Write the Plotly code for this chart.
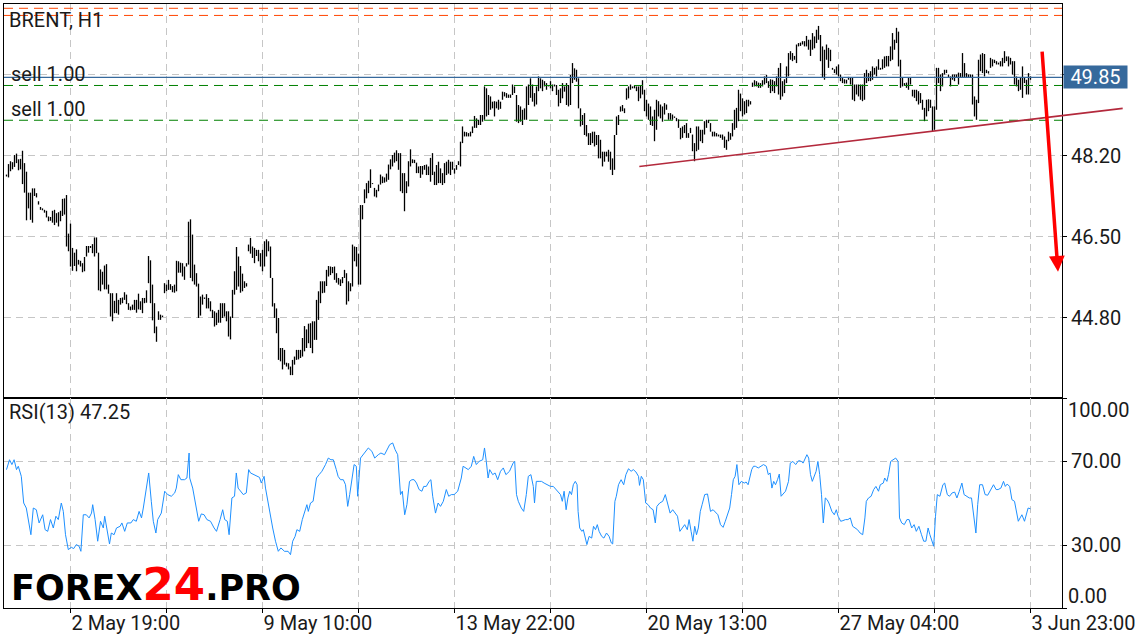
import plotly.graph_objects as go

# ---------------- data ----------------
# H1 bars (high / low), oldest first
high_a = [47.81,48.03,48.09,48.07,48.22,48.25,48.13,48.14,48.31,48.05,
          47.87,47.43,47.43,47.52,47.52,47.42,47.25,47.13,47.10,47.07,
          47.05,46.93,46.92,47.05,47.07,47.00,47.02,47.05,47.30,47.31,
          47.38,46.57,46.78,46.27,46.17,46.24,46.02,46.00,45.95,46.08,
          46.31,46.31,46.31,46.35,46.49,46.49,46.17,45.82,45.77,45.90,
          45.93,45.50,45.32,45.32,45.16,45.32,45.18,45.22,45.23,45.34,
          45.29,45.11,45.04,45.08,45.18,45.18,45.31,45.15,45.22,45.22,
          45.38,46.10,46.01,45.50,45.11,44.62,44.94,44.87,44.85,45.53,
          45.50,45.60,45.51,45.47,45.50,46.00,45.99,45.96,45.95,45.88,
          45.95,46.82,46.87,46.55,45.92,45.74,45.52,45.25,45.29,45.23,
          45.30,45.22,45.15]
low_a = [47.77,47.75,47.88,47.92,47.97,48.05,47.90,47.92,47.61,47.43,
         46.85,47.10,46.86,46.80,47.36,47.33,47.18,47.07,47.06,47.01,
         46.91,46.83,46.84,46.80,46.75,46.80,46.72,46.83,46.94,46.97,
         46.30,46.20,45.88,45.79,45.89,45.78,45.92,45.88,45.76,45.78,
         46.09,46.17,46.27,46.16,46.09,46.16,45.38,45.36,45.50,45.40,
         45.40,45.31,44.83,44.73,44.90,44.90,44.87,45.08,45.11,45.18,
         45.09,44.97,44.96,44.97,44.97,44.91,44.98,44.97,44.90,45.11,
         45.12,45.53,45.11,44.75,44.48,44.30,44.76,44.76,44.82,45.32,
         45.36,45.39,45.39,45.34,45.33,45.36,45.75,45.75,45.67,45.60,
         45.88,45.92,45.64,45.57,45.50,45.46,44.80,44.85,45.08,45.20,
         45.00,45.00,44.94]
high_b = [44.97,44.94,44.91,44.97,45.11,45.11,45.11,44.94,44.94,44.83,
          45.39,45.78,46.29,46.09,45.89,45.73,45.57,45.53,46.34,46.48,
          46.30,46.27,46.23,46.23,46.16,46.23,46.41,46.45,46.41,46.30,
          45.64,45.11,45.00,44.80,44.17,44.17,44.13,43.86,43.85,43.78,
          43.92,43.99,44.13,44.13,44.13,44.38,44.63,44.56,44.68,44.69,
          44.73,44.73,45.18,45.36,45.57,45.57,45.57,45.81,45.89,45.88,
          45.87,45.88,45.74,45.64,45.61,45.66,45.81,45.74,45.57,45.53,
          46.34,46.30,46.29,46.15,47.17,47.17,47.50,47.63,47.68,47.92,
          47.63,47.53,47.49,47.60,47.81,47.77,47.75,47.83,48.02,48.13,
          48.22,48.27,48.32,48.26,48.26,47.84,47.84,47.67,48.09,48.34,
          48.13,48.12,48.06,47.98,47.99,47.99]
low_b = [44.80,44.62,44.65,44.70,44.70,44.80,44.83,44.73,44.41,44.35,
         44.80,45.29,45.39,45.46,45.33,45.36,45.43,45.46,46.20,46.15,
         46.06,45.95,46.10,45.99,45.88,45.78,45.88,46.09,46.20,45.64,
         45.04,44.80,44.48,43.92,43.89,43.72,43.82,43.78,43.72,43.60,
         43.60,43.82,43.92,43.93,43.96,43.99,44.10,44.17,44.27,44.17,
         44.06,44.34,44.34,44.76,45.11,45.32,45.33,45.47,45.67,45.70,
         45.74,45.60,45.54,45.50,45.47,45.53,45.64,45.08,45.15,45.36,
         45.46,45.99,45.88,45.50,45.50,46.87,47.21,47.31,47.42,47.53,
         47.61,47.35,47.33,47.46,47.60,47.63,47.64,47.66,47.70,47.92,
         47.98,48.06,48.09,47.91,47.46,47.42,47.04,47.42,47.56,47.98,
         48.05,48.05,47.84,47.84,47.74,47.81]
high_c = [48.01,48.02,47.98,48.16,48.26,47.87,48.01,48.08,47.94,47.84,
          48.05,48.08,48.12,48.08,48.08,47.94,48.01,48.09,48.50,48.82,
          48.71,48.70,48.68,48.71,48.82,49.04,48.99,48.96,49.06,49.06,
          49.66,49.62,49.48,49.45,49.34,49.35,49.34,49.38,49.34,49.55,
          49.54,49.52,49.49,49.49,49.70,49.66,49.48,49.27,49.24,49.17,
          49.20,49.66,49.70,49.83,49.70,49.52,49.66,49.87,49.83,49.80,
          49.77,49.73,49.69,49.77,49.70,49.70,49.69,49.59,49.62,49.73,
          49.66,49.73,49.69,49.90,50.15,50.04,50.01,49.83,49.20,49.06,
          49.10,48.85,48.68,48.68,48.71,48.71,48.64,48.64,48.54,48.29,
          48.29,48.29,48.33,48.29,48.15,48.64,49.03,49.06,49.24,49.27,
          49.20,49.62,49.66,49.70,49.66,49.68]
low_c = [47.91,47.80,47.80,47.66,47.80,47.59,47.59,47.63,47.63,47.59,
         47.63,47.80,47.83,47.80,47.91,47.83,47.91,48.01,47.98,48.47,
         48.61,48.61,48.61,48.61,48.68,48.79,48.79,48.85,48.85,48.92,
         48.96,49.03,49.06,49.17,49.20,49.03,49.20,49.17,49.19,49.38,
         49.45,49.42,49.42,49.42,49.48,49.52,48.92,48.89,48.92,48.85,
         48.96,48.96,49.27,49.42,49.34,49.24,49.28,49.56,49.62,49.56,
         49.66,49.59,49.66,49.62,49.56,49.66,49.48,49.24,49.31,49.41,
         49.55,49.27,49.24,49.27,49.73,49.80,49.76,49.20,48.82,48.85,
         48.64,48.61,48.43,48.43,48.47,48.40,48.43,48.15,48.15,47.98,
         48.08,48.19,48.08,47.91,47.80,47.91,48.64,48.85,49.13,49.14,
         49.10,49.38,49.41,49.59,49.62,49.62]
high_d = [49.66,49.66,49.69,49.79,49.59,49.38,49.30,49.24,49.03,49.17,
          49.38,49.35,49.28,49.24,49.31,49.28,49.10,49.10,49.07,49.03,
          49.00,48.97,48.79,48.82,48.85,48.89,48.68,48.79,48.65,48.47,
          48.82,48.82,48.75,48.75,48.93,48.96,48.96,48.89,48.71,48.71,
          48.68,48.65,48.65,48.65,48.61,48.54,48.71,48.68,48.89,49.17,
          49.21,49.59,49.51,49.41,49.35,49.38,49.38,49.35,49.74,49.79,
          49.77,49.74,49.73,49.79,49.87,49.90,49.77,49.81,49.80,49.77,
          49.87,50.05,50.15,49.77,49.81,50.08,50.36,50.40,50.36,50.30,
          50.54,50.57,50.58,50.61,50.61,50.72,50.64,50.64,50.78,50.71,
          50.85,50.93,50.74,50.50,50.43,50.54,50.47,50.43,50.05,50.02,
          50.08,50.12,49.91,49.84,49.81,49.80]
low_d = [49.56,49.35,49.41,49.49,49.14,49.03,48.96,48.85,48.83,48.51,
         48.75,49.03,48.99,48.92,49.07,49.17,48.96,48.96,48.96,49.00,
         48.93,48.79,48.55,48.58,48.68,48.58,48.58,48.68,48.30,48.09,
         48.30,48.33,48.51,48.47,48.65,48.79,48.89,48.71,48.61,48.61,
         48.61,48.61,48.58,48.54,48.37,48.33,48.51,48.54,48.61,48.75,
         48.79,48.93,49.14,49.03,49.07,49.10,49.24,49.28,49.65,49.66,
         49.66,49.63,49.63,49.66,49.70,49.73,49.63,49.52,49.56,49.52,
         49.66,49.49,49.38,49.45,49.52,49.73,49.87,50.22,50.19,50.22,
         50.15,50.50,50.51,50.54,50.50,50.50,50.43,50.30,50.43,50.46,
         50.57,50.64,50.19,49.84,49.80,50.22,50.05,50.19,50.01,49.94,
         49.91,49.87,49.77,49.73,49.72,49.72]
high_e = [49.86,49.84,49.84,49.70,49.70,49.70,49.70,49.70,49.94,50.01,
          49.94,49.98,50.08,50.05,50.08,50.23,50.05,50.23,50.29,50.30,
          50.30,50.50,50.78,50.64,50.89,50.81,50.22,49.84,49.73,49.74,
          49.84,49.84,49.59,49.59,49.59,49.56,49.52,49.38,49.21,49.38,
          49.39,49.38,49.24,49.24,50.05,50.05,49.91,49.94,50.01,50.01,
          49.91,49.87,49.91,49.91,49.91,49.95,49.94,50.36,50.15,49.94,
          49.91,49.91,49.91,49.45,49.38,50.22,50.33,50.36,50.34,50.01,
          49.98,50.26,50.23,50.22,50.19,50.16,50.19,50.26,50.40,50.29,
          50.29,50.26,50.19,50.19,49.87,49.80,49.84,50.08,49.84,49.80,
          49.94,49.87]
low_e = [49.80,49.70,49.38,49.35,49.49,49.45,49.38,49.35,49.38,49.73,
         49.77,49.77,49.80,49.91,49.87,50.01,50.01,50.02,50.05,50.08,
         50.08,50.19,50.22,50.43,50.57,50.08,49.63,49.66,49.67,49.63,
         49.59,49.70,49.45,49.42,49.35,49.28,49.31,49.17,48.93,49.03,
         49.14,49.21,48.72,48.75,49.17,49.73,49.56,49.66,49.91,49.94,
         49.84,49.66,49.80,49.77,49.84,49.70,49.84,49.84,49.84,49.84,
         49.84,49.84,49.28,49.03,48.96,49.31,49.98,49.94,49.87,49.94,
         49.93,50.05,50.08,50.15,50.12,50.12,50.08,50.08,50.15,50.19,
         50.08,50.12,49.91,49.70,49.66,49.56,49.59,49.42,49.73,49.49,
         49.49,49.80]

bar_high = high_a + high_b + high_c + high_d + high_e
bar_low = low_a + low_b + low_c + low_d + low_e

# RSI(13) samples: (bar index, value)
rsi_samples = [
(0,65.9),(1.5,70.6),(2.7,68.3),(3.8,70.6),(5.0,65.9),(5.9,67.5),(7.4,62.7),(8.6,50.0),(9.9,47.6),(10.9,41.3),
(12.2,34.9),(13.4,47.6),(14.9,46.8),(16.3,40.5),(18.1,44.4),(19.3,37.3),(20.6,36.5),(22.0,42.1),(23.4,38.1),(24.7,43.7),
(25.9,42.1),(27.4,50.0),(28.4,46.0),(29.5,34.9),(30.9,27.8),(32.4,28.9),(33.6,28.3),(34.9,30.2),(36.3,29.4),(37.2,27.0),
(38.4,44.4),(39.9,44.4),(41.3,42.9),(42.5,45.2),(43.1,49.2),(44.3,42.1),(45.6,31.8),(47.0,41.3),(48.4,38.1),(49.1,43.7),
(50.6,34.9),(51.5,30.5),(52.4,35.7),(53.8,34.9),(55.0,38.1),(56.8,38.9),(57.7,40.5),(59.1,36.5),(60.4,40.5),(62.2,40.5),
(63.4,42.1),(64.9,41.3),(66.3,46.0),(67.5,42.9),(68.4,47.6),(69.9,56.4),(71.1,64.3),(72.4,50.8),(73.4,41.3),(74.7,35.7),
(75.6,42.1),(77.4,45.2),(79.1,55.6),(80.6,54.0),(82.4,53.2),(84.1,54.8),(84.9,57.1),(85.9,63.5),(87.2,61.1),(89.0,61.1),
(90.2,61.9),(91.3,73.8),(91.6,61.9),(93.1,57.1),(94.3,50.8),(96.1,41.3),(97.4,44.8),(98.8,44.4),(100.2,42.1),(102.0,41.3),
(103.8,38.1),(105.0,36.5),(106.8,42.1),(108.1,46.8),(109.1,42.1),(110.4,41.3),(111.3,34.9),(112.7,52.4),(114.0,53.2),(114.9,64.3),
(115.8,57.1),(117.0,55.6),(118.4,54.0),(119.9,54.8),(121.1,65.9),(122.0,64.3),(123.8,63.5),(125.2,62.7),(126.5,62.2),(127.4,59.5),
(128.8,62.7),(129.5,57.1),(130.6,50.8),(131.8,44.4),(133.1,38.1),(134.5,31.8),(135.9,27.0),(137.2,28.6),(139.0,27.0),(140.8,27.0),
(142.0,25.4),(143.1,31.8),(144.3,34.1),(145.2,37.3),(146.6,36.5),(147.9,42.1),(148.8,45.2),(150.2,49.2),(150.9,46.0),(152.0,50.0),
(153.3,50.8),(154.1,55.6),(155.0,61.9),(156.3,63.5),(157.7,65.1),(159.5,68.3),(160.9,71.4),(162.2,70.6),(163.4,70.6),(164.9,65.9),
(165.8,62.7),(167.0,61.1),(168.4,61.1),(169.5,58.7),(170.6,48.4),(171.6,54.0),(172.9,63.5),(173.8,68.3),(174.9,67.5),(175.6,53.2),
(177.0,71.4),(178.3,73.0),(180.0,74.6),(180.9,76.2),(182.7,74.6),(184.1,71.4),(185.9,73.0),(187.2,73.8),(189.0,73.0),(190.2,75.4),
(191.6,77.8),(193.1,78.6),(194.3,75.4),(195.6,73.0),(197.0,54.0),(197.9,55.6),(199.1,44.4),(200.2,49.2),(201.5,60.3),(202.7,61.1),
(203.8,61.1),(205.0,59.5),(206.3,56.4),(207.7,55.6),(208.6,57.9),(209.9,57.9),(211.3,60.3),(212.2,61.1),(213.1,53.2),(214.5,45.2),
(215.8,50.0),(217.0,48.4),(218.4,50.8),(219.9,56.4),(221.1,53.2),(222.4,54.0),(223.8,54.0),(225.6,55.6),(227.4,61.9),(228.3,67.5),
(229.5,66.7),(230.9,65.9),(232.4,67.5),(233.6,72.2),(234.9,68.3),(236.3,69.8),(238.1,70.6),(239.0,76.2),(239.9,69.8),(240.8,61.9),
(241.6,65.9),(243.1,63.5),(244.3,64.3),(245.6,61.1),(247.0,65.1),(248.4,66.7),(249.7,63.5),(251.5,65.1),(253.3,69.0),(254.1,69.8),
(255.0,54.0),(255.9,50.8),(257.4,47.6),(258.6,46.0),(259.9,54.0),(260.9,62.7),(262.2,63.5),(263.4,57.9),(264.0,50.0),(264.9,60.3),
(266.3,60.3),(267.5,60.3),(268.8,59.5),(270.2,58.7),(272.0,57.9),(273.4,57.9),
(277.0,54.0),(277.9,50.8),(278.8,55.6),(279.8,46.8),(280.7,52.4),(281.6,55.6),(282.5,54.0),(283.4,58.7),(284.4,60.3),(285.3,58.7),
(285.8,46.0),(286.6,38.1),(287.7,36.5),(288.4,37.3),(289.5,31.8),(290.2,30.2),(291.3,34.1),(292.6,33.3),(293.5,38.9),(294.5,37.3),
(295.4,39.7),(296.3,36.5),(297.6,34.1),(298.7,33.3),(300.0,35.7),(301.3,34.1),(302.4,31.0),(303.1,30.5),(304.2,50.8),(304.9,53.2),
(306.0,58.7),(307.3,61.1),(308.6,58.7),(309.7,63.5),(311.0,66.3),(312.3,65.1),(313.4,65.9),(314.7,64.8),(316.0,62.7),(316.5,58.4),
(317.4,62.7),(318.4,61.1),(319.6,50.0),(320.8,49.2),(322.0,47.6),(323.3,46.8),(324.4,40.5),(325.2,48.4),(326.6,50.0),(328.1,50.8),
(329.4,54.0),(330.7,49.2),(331.8,45.2),(333.1,46.8),(334.4,45.2),(335.5,43.7),(336.7,36.5),(338.0,38.1),(339.1,39.7),(340.4,37.3),
(341.3,42.1),(342.3,36.5),(343.2,31.8),(344.1,38.9),(345.0,34.9),(345.9,38.1),(346.9,46.0),(347.8,49.2),(349.1,54.0),(350.5,54.3),
(352.0,46.0),(353.3,46.8),(354.6,45.7),(355.7,44.4),(357.0,39.7),(358.3,38.4),(359.4,41.3),(360.6,44.4),(361.6,47.6),(362.5,54.0),
(363.4,61.1),(364.3,62.7),(365.2,68.3),(366.2,58.7),(367.4,60.3),(368.9,59.5),(369.8,60.0),(370.8,58.7),(371.7,61.9),(372.6,65.9),
(373.5,67.5),(374.4,67.5),(375.9,66.7),(377.2,67.5),(378.5,68.3),(379.9,67.5),(380.9,63.5),(381.8,64.3),(382.7,57.1),(383.6,60.3),
(384.5,58.7),(385.5,61.1),(386.4,63.8),(387.3,53.2),(388.2,54.3),(389.5,55.6),(391.0,60.3),(391.9,69.0),(393.2,69.8),(394.6,68.3),
(396.1,70.2),(397.4,69.8),(398.3,69.0),(399.2,70.6),(400.2,73.0),(401.1,71.4),(402.0,63.5),(402.9,60.3),(403.8,62.7),(404.8,65.1),
(405.7,69.8),(406.6,63.5),(407.5,54.0),(408.4,40.5),(409.4,52.4),(410.3,51.6),(411.2,50.0),(412.7,46.0),(413.9,44.4),(414.9,46.8),
(415.8,43.7),(417.1,41.3),(418.2,41.6),(419.5,42.1),(420.7,42.1),(421.9,42.9),(423.1,38.9),(424.1,38.1),(425.5,37.3),(426.8,35.7),
(428.1,34.9),(429.2,42.9),(429.9,50.8),(431.0,52.4),(432.3,53.2),(433.6,56.4),(434.7,57.9),(436.0,55.6),(436.9,58.7),(438.4,59.5),
(439.1,61.9),(440.2,60.3),(441.0,63.5),(442.1,69.8),(443.4,70.6),(444.6,71.4),(445.8,69.8),(446.5,42.9),(447.6,40.5),(448.9,39.7),
(450.2,42.1),(451.3,42.1),(452.6,38.1),(453.8,39.7),(454.9,36.5),(456.2,38.9),(457.5,34.9),(458.6,31.8),(459.7,31.8),(460.8,38.1),
(461.7,34.9),(462.7,31.8),(463.6,29.4),(464.5,43.7),(465.4,54.0),(466.7,53.2),(468.2,58.7),(469.1,59.5),(470.4,54.0),(471.5,53.2),
(472.8,54.8),(474.1,55.2),(475.2,52.4),(476.4,55.6),(477.7,59.5),(478.8,54.0),(480.1,53.2),(481.4,52.4),(482.5,52.4),(483.8,41.3),
(484.7,35.7),(485.6,49.2),(486.6,58.7),(488.0,58.7),(489.3,54.0),(490.6,53.7),(492.1,56.4),(493.5,58.7),(494.8,56.4),(495.8,56.4),
(497.2,57.1),(498.5,60.3),(499.4,57.9),(500.3,59.0),(501.6,57.9),(502.7,51.6),(504.0,50.8),(504.9,46.8),(505.9,41.3),(506.8,42.9),
(507.7,44.4),(509.0,41.3),(510.1,45.2),(510.8,47.6),(512.0,47.25)]
rsi_bar = [p[0] for p in rsi_samples]
rsi_val = [p[1] for p in rsi_samples]
rsi_last = 47.25

# time axis
grid_bars = [32, 80, 128, 176, 224, 272, 320, 368, 416, 464, 512]
date_labels = ["2 May 19:00", "", "9 May 10:00", "", "13 May 22:00", "",
               "20 May 13:00", "", "27 May 04:00", "", "3 Jun 23:00"]

# price axis
price_ticks = [44.80, 46.50, 48.20, 49.90]
price_tick_text = ["44.80", "46.50", "48.20", ""]
current_price = 49.85
sell_levels = [49.68, 48.95]
upper_levels = [51.30, 51.15]
trend_start = (316.4, 47.98)
trend_end = (558.1, 49.20)
forecast_from = (517.75, 50.42)
forecast_to = (525.75, 45.77)

rsi_ticks = [0, 30, 70, 100]

# ---------------- figure ----------------
X_MIN, X_MAX = -1.25, 527.75
P_MIN, P_MAX = 43.12, 51.39
SPLIT = 210 / 604.0
FONT = "Roboto, Arial, sans-serif"
GRID = "#c6c6c6"

fig = go.Figure()

bx, by = [], []
for i, (h, l) in enumerate(zip(bar_high, bar_low)):
    bx += [i, i, None]
    by += [l, h, None]
fig.add_trace(go.Scatter(x=bx, y=by, mode="lines", line=dict(color="#000000", width=1.3),
                         xaxis="x", yaxis="y", hoverinfo="skip", showlegend=False))
fig.add_trace(go.Scatter(x=rsi_bar, y=rsi_val, mode="lines", line=dict(color="#1e90ff", width=1),
                         xaxis="x2", yaxis="y2", hoverinfo="skip", showlegend=False))

axis_common = dict(showline=True, mirror=True, linecolor="#000000", linewidth=1,
                   zeroline=False, showgrid=True, gridcolor=GRID, griddash="7px,5px",
                   gridwidth=1, automargin=False, fixedrange=True)

fig.update_layout(
    width=1136, height=640,
    margin=dict(l=4, r=74, t=4, b=32),
    paper_bgcolor="white", plot_bgcolor="white",
    hovermode=False, showlegend=False,
    font=dict(family=FONT, size=20, color="#1a1a1a"),
    xaxis=dict(domain=[0, 1], range=[X_MIN, X_MAX], anchor="y",
               tickvals=grid_bars, showticklabels=False, ticks="", **axis_common),
    yaxis=dict(domain=[SPLIT, 1], range=[P_MIN, P_MAX], anchor="x", side="right",
               tickvals=price_ticks, ticktext=price_tick_text, ticks="outside",
               ticklen=4, tickcolor="#000000", tickfont=dict(size=20, color="#1a1a1a"),
               **axis_common),
    xaxis2=dict(domain=[0, 1], range=[X_MIN, X_MAX], anchor="y2",
                tickvals=grid_bars, ticktext=date_labels, ticks="outside", ticklen=4,
                tickcolor="#000000", ticklabelposition="outside right",
                ticklabelstandoff=-3,
                tickfont=dict(size=20, color="#1a1a1a"), **axis_common),
    yaxis2=dict(domain=[0, SPLIT], range=[0, 100], anchor="x2", side="right",
                tickvals=rsi_ticks, ticktext=["", "30.00", "70.00", ""], ticks="outside",
                ticklen=4, tickcolor="#000000", tickfont=dict(size=20, color="#1a1a1a"),
                **axis_common),
)

shapes = []
for lv in upper_levels:
    shapes.append(dict(type="line", xref="paper", yref="y", x0=0, x1=1, y0=lv, y1=lv,
                       line=dict(color="#ff4500", width=1, dash="9px,6px")))
for lv in sell_levels:
    shapes.append(dict(type="line", xref="paper", yref="y", x0=0, x1=1, y0=lv, y1=lv,
                       line=dict(color="#008000", width=1, dash="9px,6px")))
shapes.append(dict(type="line", xref="paper", yref="y", x0=0, x1=1,
                   y0=current_price, y1=current_price,
                   line=dict(color="#36699c", width=1.2)))


def to_paper(b):
    return (b - X_MIN) / (X_MAX - X_MIN)


shapes.append(dict(type="line", xref="paper", yref="y",
                   x0=to_paper(trend_start[0]), y0=trend_start[1],
                   x1=to_paper(trend_end[0]), y1=trend_end[1],
                   line=dict(color="#b3293c", width=1.6)))
fig.update_layout(shapes=shapes)

ann = []
ann.append(dict(text="BRENT, H1", xref="paper", yref="paper", x=0, y=1, xanchor="left",
                yanchor="top", xshift=3, yshift=-2, showarrow=False,
                font=dict(size=20, color="#1a1a1a")))
for lv in sell_levels:
    ann.append(dict(text="sell 1.00", xref="paper", yref="y", x=0, y=lv, xanchor="left",
                    yanchor="bottom", xshift=5, yshift=-3, showarrow=False,
                    font=dict(size=20, color="#1a1a1a")))
ann.append(dict(text="%.2f" % current_price, xref="paper", yref="y", x=1, y=current_price,
                xanchor="left", yanchor="middle", xshift=1, showarrow=False,
                width=63, height=22, borderpad=0, bgcolor="#36699c",
                font=dict(size=20, color="#ffffff")))
ann.append(dict(text="RSI(13) %.2f" % rsi_last, xref="paper", yref="y2 domain", x=0, y=1,
                xanchor="left", yanchor="top", xshift=3, showarrow=False,
                font=dict(size=20, color="#1a1a1a")))
ann.append(dict(text="100.00", xref="paper", yref="y2", x=1, y=100, xanchor="left",
                yanchor="top", xshift=4, yshift=2, showarrow=False,
                font=dict(size=20, color="#1a1a1a")))
ann.append(dict(text="0.00", xref="paper", yref="y2", x=1, y=0, xanchor="left",
                yanchor="bottom", xshift=4, yshift=-2, showarrow=False,
                font=dict(size=20, color="#1a1a1a")))
ann.append(dict(text="", xref="x", yref="y", x=forecast_to[0], y=forecast_to[1],
                axref="x", ayref="y", ax=forecast_from[0], ay=forecast_from[1],
                showarrow=True, arrowcolor="#ff0000", arrowwidth=3.5, arrowhead=2,
                arrowsize=0.9, standoff=0))
ann.append(dict(text="<b>FOREX<span style='color:#ff0000;font-size:45px'>24</span>.PRO</b>",
                xref="paper", yref="y2", x=0, y=0, xanchor="left", yanchor="bottom",
                xshift=5, yshift=-5, showarrow=False,
                font=dict(family="DejaVu Sans, sans-serif", size=35, color="#000000")))
fig.update_layout(annotations=ann)

fig.write_html("out.html", config={"displayModeBar": False},
               post_script="document.body.style.margin='0px';")
